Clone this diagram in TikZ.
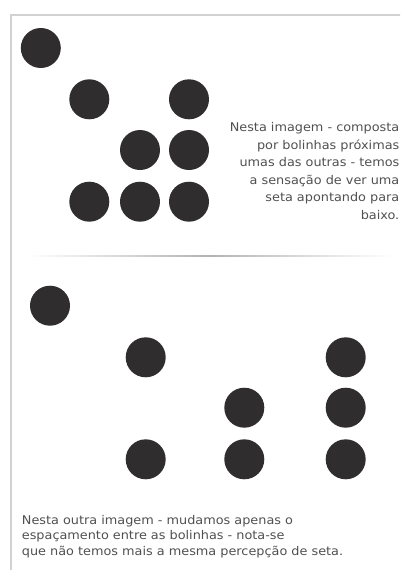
\documentclass[tikz,border=0pt]{standalone}
\usepackage{fontspec}
\setmainfont{DejaVu Sans}
\newfontfamily\capfont[FakeStretch=1.07]{DejaVu Sans}
\definecolor{dot}{HTML}{2F2D2E}
\definecolor{txt}{HTML}{505050}
\definecolor{frame}{HTML}{D2D2D2}
\begin{document}
\begin{tikzpicture}[x=1pt,y=-1pt,
  bola/.style={circle,fill=dot,minimum size=40pt,inner sep=0pt},
  caption/.style={text=txt,inner sep=0pt,font=\capfont\fontsize{12}{17.5}\selectfont},
  caption2/.style={text=txt,inner sep=0pt,font=\capfont\fontsize{12}{15.5}\selectfont}]
\useasboundingbox (0,0) rectangle (400,570);
\clip (0,0) rectangle (400,570);
% frame
\draw[frame,line width=2pt] (11,570) -- (11,15) -- (402,15);
% divider
\shade[left color=white,right color=white,middle color=black!30] (26,255) rectangle (392,256.5);
% top dots
\node[bola] (a1) at (40.8,48) {};
\node[bola] (a2) at (89.3,99.3) {};
\node[bola] (a3) at (189,99.3) {};
\node[bola] (a4) at (140,150) {};
\node[bola] (a5) at (189,150) {};
\node[bola] (a6) at (89.3,201.7) {};
\node[bola] (a7) at (140,201.7) {};
\node[bola] (a8) at (189,201.7) {};
% bottom dots
\node[bola] (b1) at (50,305.7) {};
\node[bola] (b2) at (145.7,357.3) {};
\node[bola] (b3) at (345.7,357.3) {};
\node[bola] (b4) at (244.3,407.7) {};
\node[bola] (b5) at (345.7,407.7) {};
\node[bola] (b6) at (145.7,459.3) {};
\node[bola] (b7) at (244.3,459.3) {};
\node[bola] (b8) at (345.7,459.3) {};
% texts
\node[caption,align=right,anchor=north east] (t1) at (399.5,122.3)
 {Nesta imagem - composta\\por bolinhas próximas\\umas das outras - temos\\a sensação de ver uma\\seta apontando para\\baixo.};
\node[caption2,align=left,anchor=north west] (t2) at (21.7,514.8)
 {Nesta outra imagem - mudamos apenas o\\espaçamento entre as bolinhas - nota-se\\que não temos mais a mesma percepção de seta.};
\end{tikzpicture}
\end{document}
